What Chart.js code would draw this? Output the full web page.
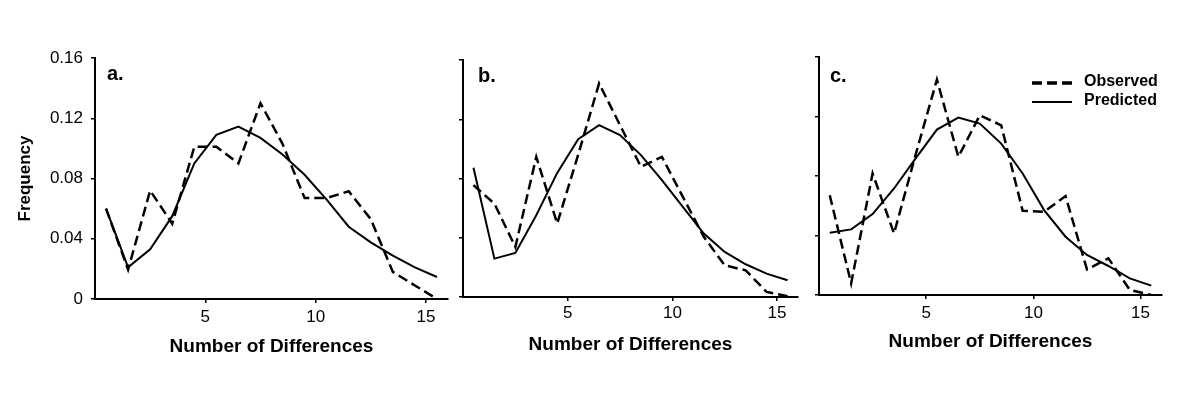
<!DOCTYPE html>
<html lang="en">
<head>
<meta charset="UTF-8">
<title>Observed and predicted mismatch distributions</title>
<script src="https://cdn.jsdelivr.net/npm/chart.js"></script>
<style>
  body { margin: 0; background: #fff; }
  #wrap { position: relative; width: 1200px; height: 400px; }
  #wrap canvas { position: absolute; top: 0; }
</style>
</head>
<body>
<div id="wrap">
  <canvas id="chartA" width="460" height="400" style="left:0px"></canvas>
  <canvas id="chartB" width="370" height="400" style="left:440px"></canvas>
  <canvas id="chartC" width="400" height="400" style="left:800px"></canvas>
</div>
<script>
// bin centres on the x axis (number of differences)
const binCenters = [0.5, 1.5, 2.5, 3.5, 4.5, 5.5, 6.5, 7.5, 8.5, 9.5, 10.5, 11.5, 12.5, 13.5, 14.5, 15.5];

const xTicks = [5, 10, 15];
const xTickLabels = ['5', '10', '15'];
const yTicks = [0, 0.04, 0.08, 0.12, 0.16];
const yTickLabels = ['0', '0.04', '0.08', '0.12', '0.16'];

// panel a
const observedA  = [0.060, 0.0195, 0.072, 0.050, 0.101, 0.101, 0.090, 0.130, 0.103, 0.067, 0.067, 0.0715, 0.053, 0.018, 0.009, 0.000];
const predictedA = [0.060, 0.021, 0.033, 0.055, 0.090, 0.109, 0.1145, 0.107, 0.096, 0.0825, 0.066, 0.048, 0.0376, 0.0288, 0.021, 0.0146];
// panel b
const observedB  = [0.0755, 0.063, 0.0338, 0.0946, 0.0496, 0.096, 0.1442, 0.116, 0.0879, 0.0946, 0.0676, 0.0406, 0.0214, 0.018, 0.0034, 0.0005];
const predictedB = [0.0872, 0.0259, 0.0297, 0.0552, 0.0838, 0.1066, 0.116, 0.1093, 0.0958, 0.0789, 0.0608, 0.0428, 0.0304, 0.0221, 0.0158, 0.0113];
// panel c
const observedC  = [0.0671, 0.0078, 0.0817, 0.0414, 0.094, 0.1448, 0.0929, 0.1208, 0.1141, 0.0566, 0.0559, 0.0665, 0.0172, 0.0246, 0.0034, 0.000];
const predictedC = [0.0418, 0.0441, 0.0544, 0.0716, 0.0917, 0.1112, 0.1193, 0.1152, 0.1018, 0.0817, 0.0571, 0.0392, 0.0269, 0.0195, 0.0112, 0.0063];

const FONT = '"Liberation Sans", Arial, Helvetica, sans-serif';
Chart.defaults.font.family = FONT;
Chart.defaults.color = '#000';

// panel letter + (optionally) legend, drawn on top of the plot
const panelDecor = {
  id: 'panelDecor',
  afterDraw(chart, args, opts) {
    const ctx = chart.ctx;
    const area = chart.chartArea;
    ctx.save();
    ctx.fillStyle = '#000';
    ctx.font = 'bold 20px ' + FONT;
    ctx.textBaseline = 'alphabetic';
    ctx.textAlign = 'left';
    ctx.fillText(opts.letter, area.left + opts.letterDx, area.top + opts.letterDy);

    if (opts.legend) {
      ctx.font = 'bold 16px ' + FONT;
      ctx.textBaseline = 'middle';
      chart.data.datasets.forEach((ds, i) => {
        const y = area.top + 26 + i * 19;
        ctx.beginPath();
        ctx.strokeStyle = ds.borderColor;
        ctx.lineWidth = ds.borderDash.length ? 3.5 : 2;
        ctx.setLineDash(ds.borderDash);
        ctx.moveTo(area.right - 130, y);
        ctx.lineTo(area.right - 90, y);
        ctx.stroke();
        ctx.fillText(ds.label, area.right - 78, y - 1.5);
      });
    }
    ctx.restore();
  }
};

function makePanel(id, observed, predicted, cfg) {
  new Chart(document.getElementById(id), {
    type: 'line',
    data: {
      datasets: [
        {
          label: 'Observed',
          data: binCenters.map((x, i) => ({ x: x, y: observed[i] })),
          borderColor: '#000',
          borderWidth: 2.5,
          borderDash: [10, 5],
          pointRadius: 0,
          tension: 0
        },
        {
          label: 'Predicted',
          data: binCenters.map((x, i) => ({ x: x, y: predicted[i] })),
          borderColor: '#000',
          borderWidth: 2,
          borderDash: [],
          pointRadius: 0,
          tension: 0
        }
      ]
    },
    options: {
      responsive: false,
      animation: false,
      layout: { padding: { left: 0, right: cfg.padRight, top: cfg.padTop, bottom: 0 } },
      plugins: {
        legend: { display: false },
        tooltip: { enabled: false },
        panelDecor: { letter: cfg.letter, letterDx: cfg.letterDx, letterDy: cfg.letterDy, legend: cfg.legend }
      },
      scales: {
        x: {
          type: 'linear',
          min: 0,
          max: 16,
          afterBuildTicks: s => { s.ticks = xTicks.map(v => ({ value: v })); },
          afterFit: s => { s.height = cfg.xHeight; },
          ticks: {
            padding: cfg.xTickPad,
            font: { size: 17 },
            color: '#000',
            maxRotation: 0,
            callback: v => xTickLabels[xTicks.indexOf(v)]
          },
          grid: { drawOnChartArea: false, drawTicks: true, tickLength: 4, color: '#000', lineWidth: 1.5 },
          border: { display: true, color: '#000', width: 2 },
          title: {
            display: true,
            text: 'Number of Differences',
            font: { size: 19, weight: 'bold' },
            color: '#000',
            padding: { top: 0, bottom: cfg.titlePad }
          }
        },
        y: {
          min: 0,
          max: 0.16,
          afterBuildTicks: s => { s.ticks = yTicks.map(v => ({ value: v })); },
          afterFit: s => { s.width = cfg.yWidth; },
          ticks: {
            padding: 8,
            font: { size: 17 },
            color: '#000',
            callback: (v, i) => cfg.yLabels ? yTickLabels[i] : ''
          },
          grid: { drawOnChartArea: false, drawTicks: true, tickLength: 4, color: '#000', lineWidth: 1.5 },
          border: { display: true, color: '#000', width: 2 },
          title: {
            display: cfg.yLabels,
            text: 'Frequency',
            font: { size: 17, weight: 'bold' },
            color: '#000',
            padding: { top: 15, bottom: 0 }
          }
        }
      }
    },
    plugins: [panelDecor]
  });
}

makePanel('chartA', observedA, predictedA, {
  yWidth: 95, padRight: 12, padTop: 58, xHeight: 101, titlePad: 42, xTickPad: 4,
  yLabels: true, letter: 'a.', letterDx: 12, letterDy: 22, legend: false
});
makePanel('chartB', observedB, predictedB, {
  yWidth: 23, padRight: 12, padTop: 60, xHeight: 103, titlePad: 44, xTickPad: 2,
  yLabels: false, letter: 'b.', letterDx: 15, letterDy: 22, legend: false
});
makePanel('chartC', observedC, predictedC, {
  yWidth: 19, padRight: 38, padTop: 57, xHeight: 105, titlePad: 47, xTickPad: 4,
  yLabels: false, letter: 'c.', letterDx: 11, letterDy: 25, legend: true
});
</script>
</body>
</html>
